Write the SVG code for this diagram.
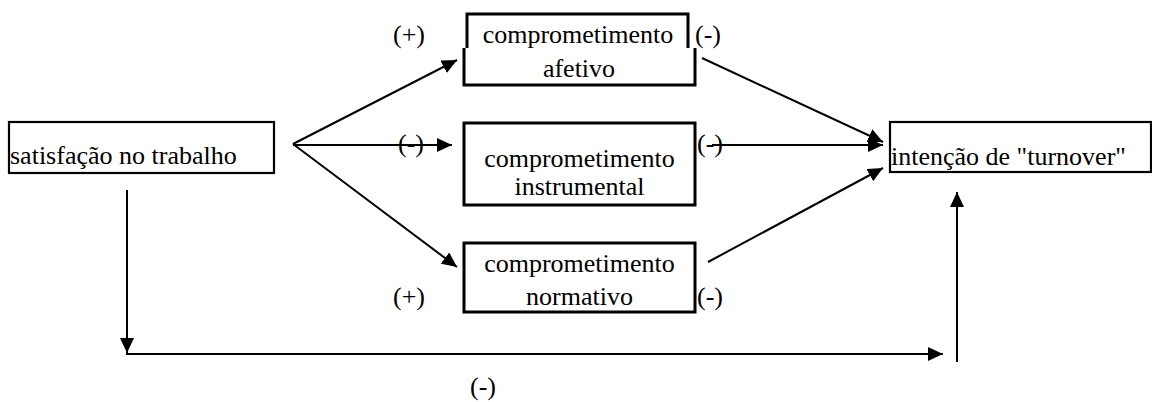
<svg xmlns="http://www.w3.org/2000/svg" width="1152" height="402" viewBox="0 0 1152 402">
  <style>
    text { font-family: "Liberation Serif", "Times New Roman", serif; font-size: 26px; fill: #000; }
    .mid { text-anchor: middle; }
    .box { fill: none; stroke: #000; stroke-width: 3; }
    .thin { stroke-width: 2.2; }
    .edge { fill: none; stroke: #000; stroke-width: 2; }
  </style>
  <defs>
    <marker id="arrow" markerUnits="userSpaceOnUse" markerWidth="16" markerHeight="14" refX="15" refY="7" orient="auto">
      <path d="M0,0 L15,7 L0,14 z" fill="#000"/>
    </marker>
  </defs>

  <rect width="1152" height="402" fill="#fff"/>

  <g id="satisfacao">
    <rect class="box thin" x="9" y="122" width="265" height="51"/>
    <text x="10" y="164">satisfação no trabalho</text>
  </g>

  <!-- upper half and lower half drawn as two open frames -->
  <g id="afetivo">
    <path class="box" d="M467,48 V14 H688 V48"/>
    <path class="box" d="M464,48 V85 H695 V48"/>
    <text class="mid" x="578" y="43">comprometimento</text>
    <text class="mid" x="579" y="77">afetivo</text>
  </g>

  <g id="instrumental">
    <rect class="box" x="464" y="123" width="231" height="82"/>
    <text class="mid" x="579.5" y="167">comprometimento</text>
    <text class="mid" x="579.5" y="195">instrumental</text>
  </g>

  <g id="normativo">
    <rect class="box" x="464" y="243" width="231" height="69"/>
    <text class="mid" x="579.5" y="272">comprometimento</text>
    <text class="mid" x="579.5" y="305">normativo</text>
  </g>

  <g id="intencao">
    <rect class="box thin" x="890" y="122" width="261" height="50"/>
    <text x="891" y="165">intenção de "turnover"</text>
  </g>

  <g id="connectors">
    <line class="edge" x1="293" y1="144" x2="457" y2="60" marker-end="url(#arrow)"/>
    <line class="edge" x1="293" y1="145" x2="452" y2="145" marker-end="url(#arrow)"/>
    <line class="edge" x1="293" y1="144" x2="457" y2="267" marker-end="url(#arrow)"/>
    <line class="edge" x1="702" y1="58" x2="883" y2="142" marker-end="url(#arrow)"/>
    <line class="edge" x1="712" y1="145" x2="883" y2="145" marker-end="url(#arrow)"/>
    <line class="edge" x1="708" y1="262" x2="883" y2="168" marker-end="url(#arrow)"/>
    <line class="edge" x1="127" y1="190" x2="127" y2="353" marker-end="url(#arrow)"/>
    <line class="edge" x1="126" y1="354" x2="943" y2="354" marker-end="url(#arrow)"/>
    <line class="edge" x1="957" y1="362" x2="957" y2="192" marker-end="url(#arrow)"/>
  </g>

  <g id="signs">
    <text x="393" y="43">(+)</text>
    <text x="695" y="43">(-)</text>
    <text x="398" y="152">(-)</text>
    <text x="697" y="152">(-)</text>
    <text x="393" y="305">(+)</text>
    <text x="697" y="305">(-)</text>
    <text x="470" y="395">(-)</text>
  </g>
</svg>
